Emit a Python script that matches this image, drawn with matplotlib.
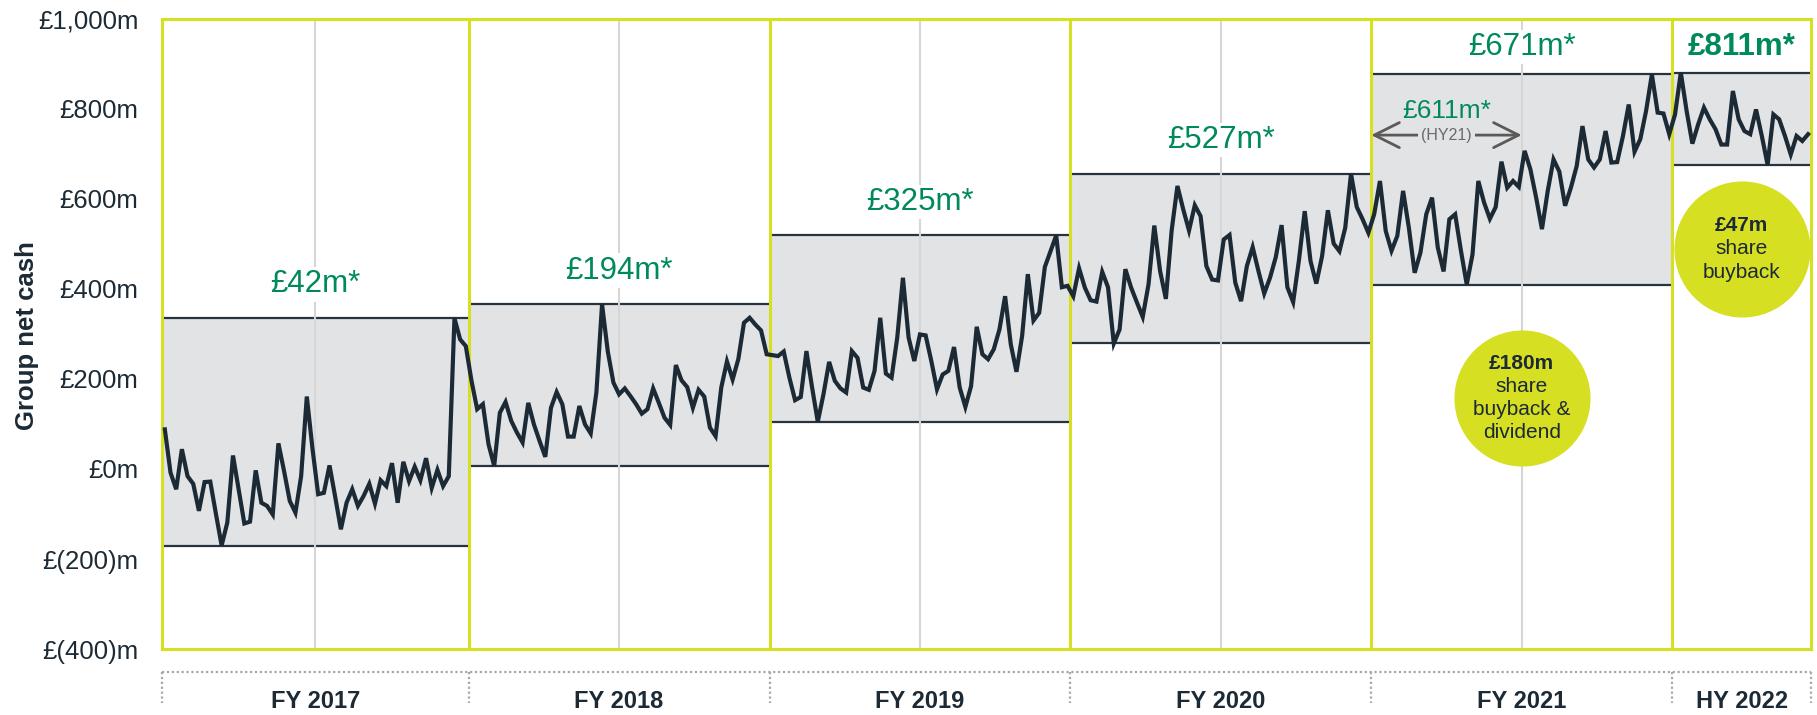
"""Group net cash by financial year, weekly balances with min/max bands."""

import matplotlib

matplotlib.use("Agg")
import matplotlib.pyplot as plt
import numpy as np

plt.rcParams["font.family"] = ["Liberation Sans", "DejaVu Sans"]

DARK = "#1c2a35"
GREEN = "#008a5a"
YELLOW = "#d7df23"
BAND = "#e2e3e5"
MIDLINE = "#d6d6d6"
DOTS = "#a8a8a8"

periods = ["FY 2017", "FY 2018", "FY 2019", "FY 2020", "FY 2021", "HY 2022"]
period_weeks = [53, 52, 52, 52, 52, 24]
avg_labels = ["£42m*", "£194m*", "£325m*", "£527m*", "£671m*", "£811m*"]

# weekly group net cash, £m
cash_fy2017 = [88, -8, -45, 44, -16, -33, -93, -29, -28, -100, -170, -119, 30, -45,
               -121, -117, -3, -75, -82, -101, 57, -5, -71, -97, -16, 161, 45, -56,
               -53, 8, -62, -134, -75, -45, -82, -60, -33, -77, -25, -38, 13, -75,
               16, -27, 5, -25, 24, -42, -2, -38, -16, 335, 288, 273]
cash_fy2018 = [196, 133, 144, 55, 7, 125, 149, 107, 81, 59, 147, 99, 62, 27, 136,
               171, 144, 72, 72, 140, 99, 79, 170, 366, 262, 192, 166, 179, 162, 144,
               123, 133, 179, 147, 114, 98, 231, 197, 182, 136, 176, 161, 92, 73, 181,
               239, 199, 244, 325, 336, 321, 308, 255]
cash_fy2019 = [253, 251, 261, 203, 153, 160, 262, 181, 105, 166, 238, 196, 179, 170,
               262, 247, 181, 176, 218, 336, 212, 203, 292, 425, 292, 240, 299, 297,
               240, 177, 210, 218, 271, 181, 138, 184, 316, 255, 244, 266, 310, 384,
               277, 216, 296, 433, 330, 347, 449, 484, 519, 404, 407]
cash_fy2020 = [384, 446, 403, 375, 372, 438, 404, 279, 310, 444, 403, 370, 338, 410,
               541, 440, 378, 530, 629, 577, 530, 586, 562, 451, 421, 419, 510, 520,
               414, 373, 451, 493, 440, 390, 425, 471, 542, 404, 371, 464, 573, 462,
               412, 473, 575, 501, 484, 536, 656, 582, 555, 525]
cash_fy2021 = [566, 640, 529, 485, 518, 618, 536, 436, 481, 566, 603, 492, 439, 555,
               566, 485, 410, 477, 640, 592, 556, 582, 683, 625, 640, 627, 707, 666,
               603, 533, 618, 688, 661, 585, 625, 673, 762, 688, 670, 688, 751, 681,
               682, 740, 810, 705, 733, 796, 877, 792, 790, 744]
cash_hy2022 = [788, 881, 796, 723, 766, 803, 777, 755, 721, 721, 840, 777, 751, 744,
               799, 740, 676, 788, 777, 740, 699, 740, 729, 744]
cash_by_period = [cash_fy2017, cash_fy2018, cash_fy2019, cash_fy2020, cash_fy2021, cash_hy2022]

y_ticks = [-400, -200, 0, 200, 400, 600, 800, 1000]
y_tick_labels = ["£(400)m", "£(200)m", "£0m", "£200m", "£400m", "£600m", "£800m", "£1,000m"]

hy21_label = "£611m*"
hy21_note = "(HY21)"

return_headlines = ["£180m", "£47m"]
return_notes = [["share", "buyback &", "dividend"], ["share", "buyback"]]


fig = plt.figure(figsize=(18.17, 7.15), dpi=100)
ax = fig.add_axes([162 / 1817, 1 - 649 / 715, 1649 / 1817, 630 / 715])
ax.set_ylim(-400, 1000)
bounds = np.concatenate([[0], np.cumsum(period_weeks)])
ax.set_xlim(bounds[0], bounds[-1])

xs, ys = [], []
for k, vals in enumerate(cash_by_period):
    start, end = bounds[k], bounds[k + 1]
    n = len(vals)
    x = start + (np.arange(n) + 0.5) * (end - start) / n
    xs.append(x)
    ys.append(np.asarray(vals, dtype=float))

    lo, hi = min(vals), max(vals)
    ax.fill_between([start, end], lo, hi, color=BAND, lw=0, zorder=1)
    ax.hlines([lo, hi], start, end, color="#26343f", lw=1.6, zorder=2)
    mid = (start + end) / 2
    if k < len(cash_by_period) - 1:
        ax.axvline(mid, color=MIDLINE, lw=1.5, zorder=2.5)
    bold = k == len(cash_by_period) - 1
    ax.text(mid, min(hi + 75, 938), avg_labels[k], ha="center", va="center",
            fontsize=22.5, color=GREEN, fontweight="bold" if bold else "normal",
            bbox=dict(fc="white", ec="none", pad=1.5), zorder=4)

ax.plot(np.concatenate(xs), np.concatenate(ys), color=DARK, lw=3.0,
        solid_joinstyle="miter", zorder=6)

# panel borders
for b in bounds[1:-1]:
    ax.axvline(b, color=YELLOW, lw=2.2, zorder=5)
for side in ax.spines.values():
    side.set_color(YELLOW)
    side.set_linewidth(2.2)
    side.set_zorder(5)

ax.set_xticks([])
ax.set_yticks(y_ticks)
ax.set_yticklabels(y_tick_labels)
ax.tick_params(axis="y", length=0, pad=17, labelsize=18.5, labelcolor=DARK)
fig.text(27 / 1817, 1 - 336 / 715, "Group net cash", rotation=90, ha="center",
         va="center", fontsize=18.5, fontweight="bold", color=DARK)

# HY21 bracket inside FY2021
s21, e21 = bounds[4], bounds[5]
m21 = (s21 + e21) / 2
arrow_y = 742
ax.annotate("", xy=(s21, arrow_y), xytext=(m21, arrow_y),
            arrowprops=dict(arrowstyle="<->,head_length=0.9,head_width=0.45",
                            color="#5a5a5a", lw=2, shrinkA=0, shrinkB=0,
                            mutation_scale=20), zorder=7)
ax.text((s21 + m21) / 2, arrow_y, hy21_note, ha="center", va="center",
        fontsize=11.5, color="#6a6a6a", bbox=dict(fc=BAND, ec="none", pad=2), zorder=8)
ax.text((s21 + m21) / 2, 796, hy21_label, ha="center", va="center",
        fontsize=19, color=GREEN, zorder=8)

# capital return bubbles
bubble_at = [(m21, 158), ((bounds[5] + bounds[6]) / 2, 489)]
for (bx, by), head, notes in zip(bubble_at, return_headlines, return_notes):
    ax.scatter([bx], [by], s=9600, color=YELLOW, linewidths=0, zorder=9)
    lines = [head] + notes
    n = len(lines)
    for i, line in enumerate(lines):
        ax.annotate(line, xy=(bx, by), xytext=(0, ((n - 1) / 2 - i) * 16.6),
                    textcoords="offset points", ha="center", va="center",
                    fontsize=15, color=DARK,
                    fontweight="bold" if i == 0 else "normal", zorder=10)

# period labels with dotted brackets underneath
xt = ax.get_xaxis_transform()
y_top, y_bot, y_lab = (649 - 672) / 630, (649 - 703) / 630, (649 - 701) / 630
ax.plot([bounds[0], bounds[-1]], [y_top, y_top], transform=xt, clip_on=False,
        color=DOTS, lw=1.6, ls=(0, (1, 1.2)))
for b in bounds:
    ax.plot([b, b], [y_top, y_bot], transform=xt, clip_on=False,
            color=DOTS, lw=1.6, ls=(0, (1, 1.2)))
for k, name in enumerate(periods):
    ax.text((bounds[k] + bounds[k + 1]) / 2, y_lab, name, transform=xt,
            ha="center", va="center", fontsize=17, fontweight="bold", color=DARK)

fig.savefig("out.png", dpi=100)
plt.close(fig)
